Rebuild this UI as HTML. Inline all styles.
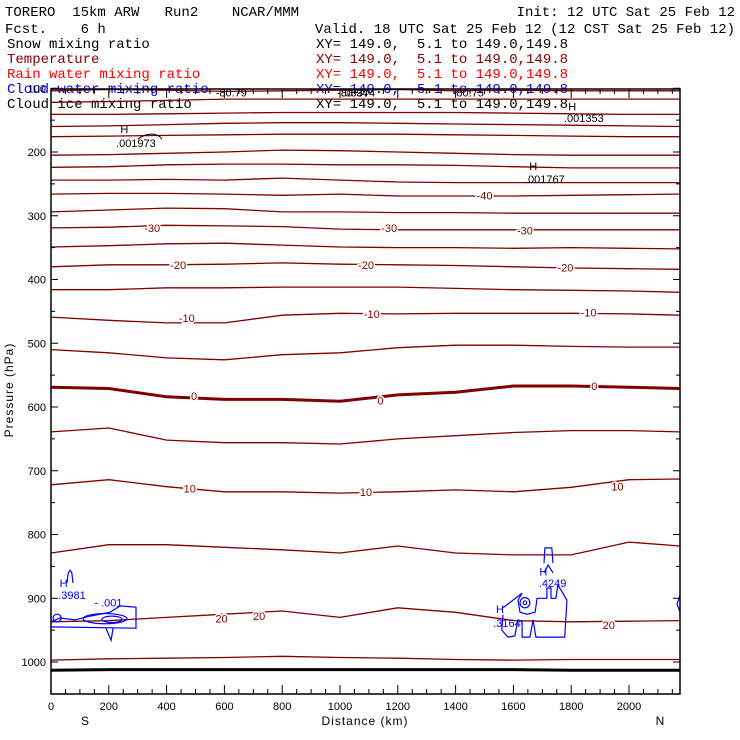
<!DOCTYPE html>
<html><head><meta charset="utf-8"><style>
html,body{margin:0;padding:0;background:#fff;}
svg{display:block;font-family:"Liberation Sans",sans-serif;}
.hd{font-family:"Liberation Mono",monospace;font-size:14px;}
.tk{font-size:11px;fill:#000;}
.tl{font-size:11px;fill:#800000;stroke:#fff;stroke-width:3px;paint-order:stroke;}
.bl{font-size:11px;fill:#0000ff;}
.kl{font-size:11px;fill:#000;}
</style></head><body>
<svg id="chart" width="740" height="740" viewBox="0 0 740 740">
<g class="hd">
<text x="5" y="16">TORERO&#160;&#160;15km&#160;ARW&#160;&#160;&#160;Run2&#160;&#160;&#160;&#160;NCAR/MMM</text>
<text x="735" y="16" text-anchor="end">Init: 12 UTC Sat 25 Feb 12</text>
<text x="5" y="33">Fcst.&#160;&#160;&#160;&#160;6 h</text>
<text x="735" y="33" text-anchor="end">Valid. 18 UTC Sat 25 Feb 12 (12 CST Sat 25 Feb 12)</text>
<text x="7" y="48" fill="#000">Snow mixing ratio</text>
<text x="316" y="48" fill="#000">XY= 149.0,&#160;&#160;5.1 to 149.0,149.8</text>
<text x="7" y="63" fill="#800000">Temperature</text>
<text x="316" y="63" fill="#800000">XY= 149.0,&#160;&#160;5.1 to 149.0,149.8</text>
<text x="7" y="78" fill="#ff0000">Rain water mixing ratio</text>
<text x="316" y="78" fill="#ff0000">XY= 149.0,&#160;&#160;5.1 to 149.0,149.8</text>
<text x="7" y="93" fill="#0000ff">Cloud water mixing ratio</text>
<text x="316" y="93" fill="#0000ff">XY= 149.0,&#160;&#160;5.1 to 149.0,149.8</text>
<text x="7" y="108" fill="#000">Cloud ice mixing ratio</text>
<text x="316" y="108" fill="#000">XY= 149.0,&#160;&#160;5.1 to 149.0,149.8</text>
</g>
<g id="plot"></g>
<text transform="translate(13,390) rotate(-90)" text-anchor="middle" font-size="12" letter-spacing="1">Pressure (hPa)</text>
<text x="365" y="725" text-anchor="middle" font-size="12" letter-spacing="1">Distance (km)</text>
<text x="85" y="725" text-anchor="middle" font-size="12">S</text>
<text x="660" y="725" text-anchor="middle" font-size="12">N</text>
</svg>
<script>
const dists=[0,200,400,600,800,1000,1200,1400,1600,1800,2000,2176];
const tempValues=[-80,-75,-70,-65,-60,-55,-50,-45,-40,-35,-30,-25,-20,-15,-10,-5,0,5,10,15,20,25];
const tempPressures=[
[104,102,103,105,104,103,102,104,103,104,104,104],
[122,121,119,117,117,117,117,117,117,117,117,117],
[141,141,140,139,138,138,138,138,139,140,141,141],
[160,159,157,155,154,154,155,156,157,158,159,160],
[176,175,174,173,172,172,172,173,174,175,176,176],
[205,204,202,200,197,198,200,202,204,205,205,205],
[224,223,220,219,219,220,220,221,223,225,225,225],
[244,244,243,244,241,244,247,248,248,248,248,248],
[266,265,265,266,268,266,269,269,269,268,267,266],
[294,291,288,289,294,294,295,295,296,296,296,296],
[319,318,315,316,317,321,322,322,322,322,322,322],
[349,347,344,343,346,349,350,350,351,350,351,352],
[380,377,377,376,374,376,377,378,380,382,383,384],
[416,416,413,413,412,412,412,414,416,417,418,420],
[459,464,468,468,456,453,454,453,453,453,454,456],
[510,515,523,526,518,515,507,503,503,505,506,506],
[569,571,584,588,588,591,581,577,567,567,569,571],
[639,633,652,656,656,658,650,645,640,637,637,639],
[722,714,725,733,733,735,733,730,733,726,714,713],
[829,816,816,820,824,829,818,829,832,832,812,818],
[937,935,930,925,920,930,915,922,935,937,936,935],
[997,995,994,993,991,993,994,996,997,996,996,996]];
const tempLabels=[["-40",1500,268],["-30",350,319],["-30",1170,319],["-30",1640,323],["-20",440,377],["-20",1090,377],["-20",1780,381],["-10",470,460],["-10",1110,454],["-10",1860,452],["0",495,583],["0",1140,590],["0",1880,567],["10",480,728],["10",1090,733],["10",1960,725],["20",590,932],["20",720,928],["20",1930,942]];
const cloudContours=[
[[0,945],[294,947],[294,914],[239,912],[204,922],[135,928],[83,934],[31,931],[0,937]],
[[190,947],[208,966],[215,947]],
[[55,876],[60,860],[66,856],[72,860],[76,876]],
[[1564,926],[1560,950],[1581,961],[1605,959],[1616,934],[1630,937],[1630,961],[1657,961],[1668,934],[1678,961],[1778,961],[1785,903],[1754,879],[1747,900],[1730,900],[1730,884],[1716,884],[1716,900],[1682,900],[1675,922],[1647,925],[1623,922],[1616,903],[1630,892],[1564,915]],
[[1706,845],[1709,821],[1733,821],[1737,845]],
[[1706,860],[1720,848],[1737,860]],
[[2176,896],[2166,909],[2176,921]]];
const cloudOvals=[[187,932,76,8],[211,933,35,5],[21,931,14,6],[1640,907,17,8],[1640,907,6,3]];
const cloudLabels=[["H",30,876],[".3981",25,895],["- .001",150,907],["H",1690,858],[".4249",1688,876],["H",1540,917],[".3164",1530,939]];
const snowLabels=[["H",240,164],[".001973",225,186],["H",1790,129],[".001353",1775,147],["H",1655,222],[".001767",1640,242],["-80.79",570,107],["-80.94",990,107],[".00374",1005,107],["-80.75",1390,107]];
const groundP=[1013,1012,1012,1012,1012,1012,1012,1012,1012,1013,1013,1013];
const xTicks=[0,200,400,600,800,1000,1200,1400,1600,1800,2000];
const yTicks=[100,200,300,400,500,600,700,800,900,1000];

const X0=51,X1=680,Y0=89,Y1=694;
const xs=d=>X0+d*(629-51)/2000;
const ys=p=>152+(p-200)*0.6375;
const NS="http://www.w3.org/2000/svg";
const plot=document.getElementById('plot');
function mk(tag,attrs,parent){const e=document.createElementNS(NS,tag);for(const k in attrs)e.setAttribute(k,attrs[k]);(parent||plot).appendChild(e);return e;}

const clip=mk('clipPath',{id:'pc'});mk('rect',{x:X0,y:Y0,width:X1-X0,height:Y1-Y0},clip);
const g=mk('g',{'clip-path':'url(#pc)'});



tempValues.forEach((v,i)=>{
  const pts=dists.map((d,j)=>xs(d).toFixed(1)+','+ys(tempPressures[i][j]).toFixed(1)).join(' ');
  const l=mk('polyline',{points:pts,fill:'none',stroke:'#800000','stroke-width':v===0?3:1.3},g);
  
  
});
const gp=mk('polyline',{points:dists.map((d,j)=>xs(d)+','+ys(groundP[j])).join(' '),fill:'none',stroke:'#000','stroke-width':3},g);


cloudContours.forEach((c,i)=>{
  const l=mk('polyline',{points:c.map(q=>xs(q[0]).toFixed(1)+','+ys(q[1]).toFixed(1)).join(' '),fill:'none',stroke:'#0000ff','stroke-width':1.2},g);
  
  
});
cloudOvals.forEach(o=>{
  const e=mk('ellipse',{cx:xs(o[0]),cy:ys(o[1]),rx:o[2]*(629-51)/2000,ry:o[3]*0.6375,fill:'none',stroke:'#0000ff','stroke-width':1.2},g);
  
  
});
const arc=mk('path',{d:`M${xs(300)},${ys(180)} q8,-6 16,-5 q6,1 8,5`,fill:'none',stroke:'#000','stroke-width':1},g);


tempLabels.forEach(t=>{
  const e=mk('text',{x:xs(t[1]),y:ys(t[2])+4,'text-anchor':'middle',class:'tl'});e.textContent=t[0];
  
  
});
cloudLabels.forEach(t=>{
  const e=mk('text',{x:xs(t[1]),y:ys(t[2])+4,class:'bl'});e.textContent=t[0];
  
  
});
snowLabels.forEach(t=>{
  const e=mk('text',{x:xs(t[1]),y:ys(t[2])+4,class:'kl'});e.textContent=t[0];
  
  
});
const fr=mk('rect',{x:X0,y:Y0,width:X1-X0,height:Y1-Y0,fill:'none',stroke:'#000','stroke-width':1.5});


for(let d=0;d<=2176;d+=50){
  const L=d%200===0?9:5;
  mk('line',{x1:xs(d),x2:xs(d),y1:Y1,y2:Y1-L,stroke:'#000'});
  mk('line',{x1:xs(d),x2:xs(d),y1:Y0,y2:Y0+L,stroke:'#000'});
}
xTicks.forEach(d=>{
  const e=mk('text',{x:xs(d),y:Y1+16,'text-anchor':'middle',class:'tk'});e.textContent=d;
  
  
});
for(let p=100;p<=1050;p+=50){
  const L=p%100===0?7:4;
  mk('line',{x1:X0,x2:X0+L,y1:ys(p),y2:ys(p),stroke:'#000'});
  mk('line',{x1:X1,x2:X1-L,y1:ys(p),y2:ys(p),stroke:'#000'});
}
yTicks.forEach(p=>{
  const e=mk('text',{x:X0-5,y:ys(p)+4,'text-anchor':'end',class:'tk'});e.textContent=p;
  
  
});
</script>
</body></html>
